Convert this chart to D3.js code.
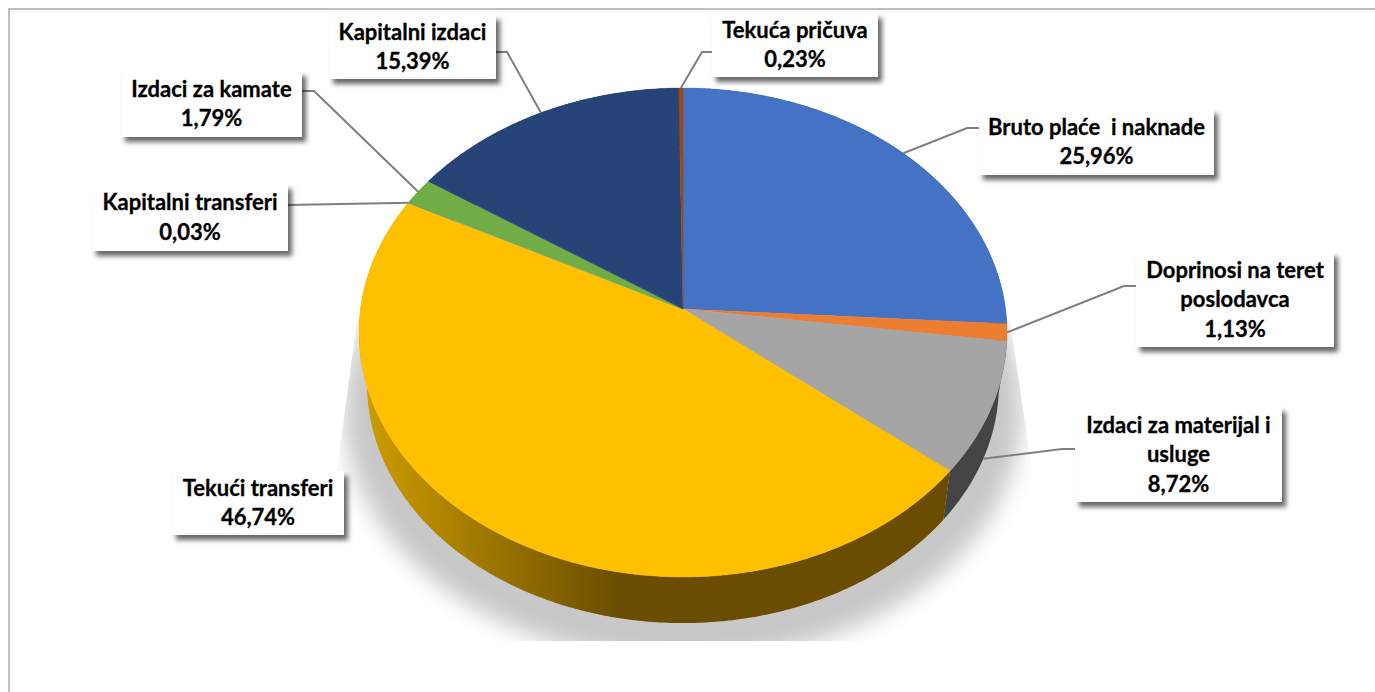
<!DOCTYPE html>
<html lang="en">
    <head>
        <meta charset="utf-8">
        <title>Rashodi</title>
        <script src="https://cdn.jsdelivr.net/npm/d3@7/dist/d3.min.js" charset="utf-8"></script>
        <style type="text/css">
            html, body {
                margin: 0;
                background-color: #fff;
                overflow: hidden;
            }
            #chart {
                width: 1375px;
                height: 692px;
            }
            .label text {
                font-family: Lato, "Open Sans", sans-serif;
                font-weight: 700;
                font-size: 22px;
                fill: #000;
                stroke: #000;
                stroke-width: 0.3px;
                text-anchor: middle;
                white-space: pre;
            }
        </style>
    </head>
    <body>
        <div id="chart"></div>
        <script>
            // Data, clockwise from 12 o'clock
            var categories = [
                "Bruto plaće  i naknade", "Doprinosi na teret poslodavca", "Izdaci za materijal i usluge",
                "Tekući transferi", "Kapitalni transferi", "Izdaci za kamate", "Kapitalni izdaci", "Tekuća pričuva"
            ];
            var values = [25.96, 1.13, 8.72, 46.74, 0.03, 1.79, 15.39, 0.23];
            var colors = ["#4472c4", "#ed7d31", "#a5a5a5", "#ffc000", "#5b9bd5", "#70ad47", "#264478", "#9e480e"];
            var wallColors = ["#29447a", "#8f4b1d", "#444444", "url(#wallYellow)", "#375d80", "#43682b", "#172948", "#5f2b08"];
            var nameLines = [
                ["Bruto plaće  i naknade"], ["Doprinosi na teret", "poslodavca"], ["Izdaci za materijal i", "usluge"],
                ["Tekući transferi"], ["Kapitalni transferi"], ["Izdaci za kamate"], ["Kapitalni izdaci"], ["Tekuća pričuva"]
            ];
            // Label boxes: left, top, right, bottom and the elbow of the leader
            var boxes = [
                [979, 109, 1214, 175], [1136, 252, 1334, 347], [1075, 407, 1282, 502],
                [172, 471, 344, 535], [92, 184, 288, 251], [121, 71, 302, 137], [329, 15, 496, 79], [712, 13, 878, 77]
            ];
            var leaders = [
                [[979, 128], [967, 128]], [[1136, 286], [1124, 286]], [[1075, 449], [1062, 449]],
                null, [[288, 205]], [[302, 91], [314, 91]], [[496, 52], [507, 52]], [[712, 52], [702, 52]]
            ];

            var width = 1375, height = 692;
            var svg = d3.select("#chart").append("svg")
                .attr("width", width)
                .attr("height", height);

            var defs = svg.append("defs");

            var grad = defs.append("linearGradient")
                .attr("id", "wallYellow")
                .attr("gradientUnits", "userSpaceOnUse")
                .attr("x1", 360).attr("x2", 620).attr("y1", 0).attr("y2", 0);
            grad.append("stop").attr("offset", "0").attr("stop-color", "#cf9e00");
            grad.append("stop").attr("offset", "1").attr("stop-color", "#6a4d00");

            defs.append("filter").attr("id", "pieShadow")
                .attr("x", "-10%").attr("y", "-10%").attr("width", "120%").attr("height", "120%")
                .append("feGaussianBlur").attr("stdDeviation", 11);

            var boxFilter = defs.append("filter").attr("id", "boxShadow")
                .attr("x", "-10%").attr("y", "-20%").attr("width", "125%").attr("height", "150%");
            boxFilter.append("feDropShadow")
                .attr("dx", 4).attr("dy", 5).attr("stdDeviation", 2.5)
                .attr("flood-color", "#000").attr("flood-opacity", 0.6);

            defs.append("clipPath").attr("id", "shadowClip")
                .append("polygon")
                .attr("points", "357,320 1010,320 1032,470 1045,641 325,641 337,470");

            // Frame
            svg.append("path")
                .attr("d", "M9,692V9H1375")
                .attr("fill", "none")
                .attr("stroke", "#bfbfbf")
                .attr("stroke-width", 2);

            // Perspective view of the disc: u to the right, v towards the viewer
            var persp = 0.0961;
            function project(angle, level) {
                var u = Math.sin(angle), v = -Math.cos(angle), w = 1 - persp * v;
                return level === 0
                    ? [683 + 322.5 * u / w, 309 + 242.2 * v / w]
                    : [683 + 314.4 * u / w, 362 + 236 * v / w];
            }
            function rim(a0, a1, level) {
                var n = Math.max(2, Math.ceil((a1 - a0) / 0.01));
                return d3.range(n + 1).map(function(i) {
                    return project(a0 + (a1 - a0) * i / n, level);
                });
            }

            var arcs = d3.pie().sort(null).value(function(d) { return d; })(values);
            var line = d3.line();

            // Shadow under the pie
            svg.append("g")
                .attr("clip-path", "url(#shadowClip)")
                .append("ellipse")
                .attr("cx", 683).attr("cy", 411)
                .attr("rx", 339).attr("ry", 250)
                .attr("fill", "#c8c8c8")
                .attr("filter", "url(#pieShadow)");

            // Side wall
            svg.append("g").selectAll("path")
                .data(arcs)
                .enter().append("path")
                .attr("d", function(d) {
                    return line(rim(d.startAngle, d.endAngle, 0).concat(rim(d.startAngle, d.endAngle, 1).reverse())) + "Z";
                })
                .attr("fill", function(d, i) { return wallColors[i]; });

            // Top face
            svg.append("g").selectAll("path")
                .data(arcs)
                .enter().append("path")
                .attr("d", function(d) {
                    return line([[683, 309]].concat(rim(d.startAngle, d.endAngle, 0))) + "Z";
                })
                .attr("fill", function(d, i) { return colors[i]; })
                .attr("stroke", function(d, i) { return colors[i]; })
                .attr("stroke-width", 0.4);

            // Leader lines end at the middle of the slice, on the wall when the slice faces the viewer
            svg.append("g").selectAll("path")
                .data(arcs.filter(function(d, i) { return leaders[i]; }))
                .enter().append("path")
                .attr("d", function(d) {
                    var mid = (d.startAngle + d.endAngle) / 2;
                    var level = -Math.cos(mid) > 0.2 ? 1 : 0;
                    return line(leaders[d.index].concat([project(mid, level)]));
                })
                .attr("fill", "none")
                .attr("stroke", "#7f7f7f")
                .attr("stroke-width", 2);

            // Labels
            var fmt = d3.formatLocale({ decimal: ",", thousands: ".", grouping: [3], currency: ["", ""] }).format(".2f");

            var label = svg.append("g").selectAll("g")
                .data(categories)
                .enter().append("g")
                .attr("class", "label");

            label.append("rect")
                .attr("x", function(d, i) { return boxes[i][0]; })
                .attr("y", function(d, i) { return boxes[i][1]; })
                .attr("width", function(d, i) { return boxes[i][2] - boxes[i][0]; })
                .attr("height", function(d, i) { return boxes[i][3] - boxes[i][1]; })
                .attr("fill", "#fff")
                .attr("filter", "url(#boxShadow)");

            label.each(function(d, i) {
                var rows = nameLines[i].concat([fmt(values[i]) + "%"]);
                var cx = (boxes[i][0] + boxes[i][2]) / 2, cy = (boxes[i][1] + boxes[i][3]) / 2;
                d3.select(this).selectAll("text")
                    .data(rows)
                    .enter().append("text")
                    .attr("x", cx)
                    .attr("y", function(r, j) { return cy + (j - (rows.length - 1) / 2) * 29.5 + 7.5; })
                    .text(function(r) { return r; });
            });
        </script>
    </body>
</html>
